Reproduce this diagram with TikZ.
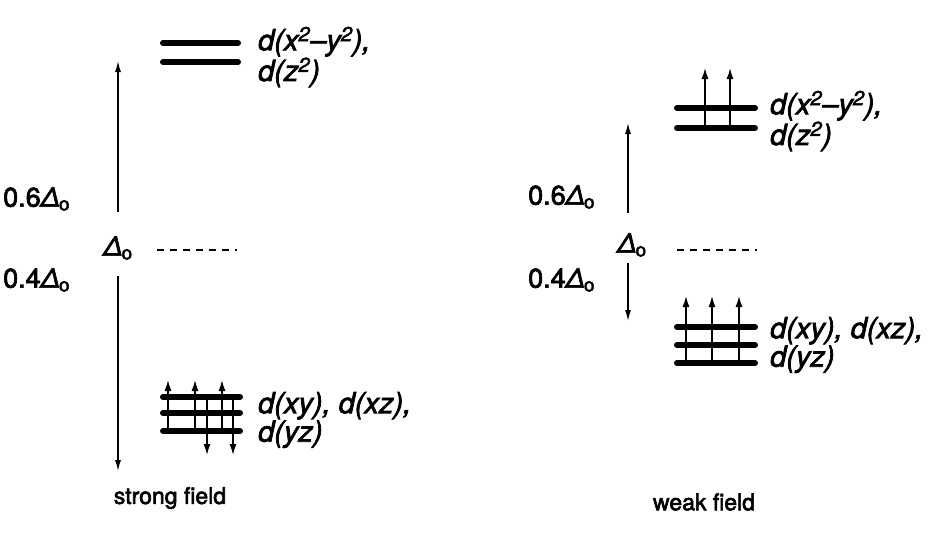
\documentclass[tikz,border=0pt]{standalone}
\usepackage{fontspec}
\setmainfont{TeX Gyre Heros}[FakeBold=2.5]
\usetikzlibrary{arrows.meta}
\newcommand{\DeltaO}{\textit{Δ}\textsubscript{\kern-0.05em o}}
\begin{document}
\begin{tikzpicture}[x=1pt,y=-1pt,
  level/.style={line width=6pt, line cap=round},
  spin/.style={line width=1.4pt, -{Latex[length=11pt,width=7pt]}},
  gaparrow/.style={line width=1.3pt, -{Latex[length=11pt,width=6pt]}},
  baryc/.style={line width=2.5pt, dash pattern=on 7pt off 6pt},
  orb/.style={font=\fontsize{29}{27}\selectfont\itshape, anchor=west, inner sep=0pt, align=left},
  dlab/.style={font=\fontsize{27}{28}\selectfont, inner sep=0pt},
  field/.style={font=\fontsize{23}{24}\selectfont, inner sep=0pt}
]
\useasboundingbox (0,0) rectangle (934,538);

% ---------------- strong field ----------------
\coordinate (lt1a) at (163,43); \coordinate (lt1b) at (238,43);
\coordinate (lt2a) at (163,62); \coordinate (lt2b) at (238,62);
\draw[level] (lt1a) -- (lt1b);
\draw[level] (lt2a) -- (lt2b);

\coordinate (lb1a) at (163,397); \coordinate (lb1b) at (240,397);
\coordinate (lb2a) at (163,413); \coordinate (lb2b) at (240,413);
\coordinate (lb3a) at (163,431); \coordinate (lb3b) at (240,431);
\draw[level] (lb1a) -- (lb1b);
\draw[level] (lb2a) -- (lb2b);
\draw[level] (lb3a) -- (lb3b);

\foreach \x in {168,195,222} {
  \coordinate (lu\x s) at (\x,431); \coordinate (lu\x e) at (\x,380);
  \draw[spin] (lu\x s) -- (lu\x e);
}
\foreach \x in {207,233} {
  \coordinate (ld\x s) at (\x,397); \coordinate (ld\x e) at (\x,455);
  \draw[spin] (ld\x s) -- (ld\x e);
}

\node[dlab] (ldelta) at (118,248) {\DeltaO};
\coordinate (lgu) at (118,212); \coordinate (lgut) at (118,61);
\coordinate (lgd) at (118,276); \coordinate (lgdt) at (118,471);
\draw[gaparrow] (lgu) -- (lgut);
\draw[gaparrow] (lgd) -- (lgdt);
\coordinate (lda) at (157,250); \coordinate (ldb) at (237,250);
\draw[baryc] (lda) -- (ldb);

\node[dlab, anchor=west] (l06) at (3,199) {0.6\DeltaO};
\node[dlab, anchor=west] (l04) at (3,280) {0.4\DeltaO};

\node[orb] (leg) at (258,57) {d(x\textsuperscript{2}–y\textsuperscript{2}),\\d(z\textsuperscript{2})};
\node[orb] (lt2g) at (258,420) {d(xy), d(xz),\\d(yz)};

\node[field] (strong) at (170,498) {strong field};

% ---------------- weak field ----------------
\coordinate (rt1a) at (677,108); \coordinate (rt1b) at (755,108);
\coordinate (rt2a) at (677,128); \coordinate (rt2b) at (755,128);
\draw[level] (rt1a) -- (rt1b);
\draw[level] (rt2a) -- (rt2b);
\foreach \x in {705,730} {
  \coordinate (ru\x s) at (\x,128); \coordinate (ru\x e) at (\x,68);
  \draw[spin] (ru\x s) -- (ru\x e);
}

\coordinate (rb1a) at (677,327); \coordinate (rb1b) at (755,327);
\coordinate (rb2a) at (677,345); \coordinate (rb2b) at (755,345);
\coordinate (rb3a) at (677,363); \coordinate (rb3b) at (755,363);
\draw[level] (rb1a) -- (rb1b);
\draw[level] (rb2a) -- (rb2b);
\draw[level] (rb3a) -- (rb3b);
\foreach \x in {686,712,739} {
  \coordinate (rbu\x s) at (\x,363); \coordinate (rbu\x e) at (\x,296);
  \draw[spin] (rbu\x s) -- (rbu\x e);
}

\node[dlab] (rdelta) at (632,245) {\DeltaO};
\coordinate (rgu) at (628,213); \coordinate (rgut) at (628,123);
\coordinate (rgd) at (628,263); \coordinate (rgdt) at (628,321);
\draw[gaparrow] (rgu) -- (rgut);
\draw[gaparrow] (rgd) -- (rgdt);
\coordinate (rda) at (677,250); \coordinate (rdb) at (757,250);
\draw[baryc] (rda) -- (rdb);

\node[dlab, anchor=west] (r06) at (528,197) {0.6\DeltaO};
\node[dlab, anchor=west] (r04) at (528,280) {0.4\DeltaO};

\node[orb] (reg) at (770,121) {d(x\textsuperscript{2}–y\textsuperscript{2}),\\d(z\textsuperscript{2})};
\node[orb] (rt2g) at (770,345) {d(xy), d(xz),\\d(yz)};

\node[field] (weak) at (704,502) {weak field};
\end{tikzpicture}
\end{document}
